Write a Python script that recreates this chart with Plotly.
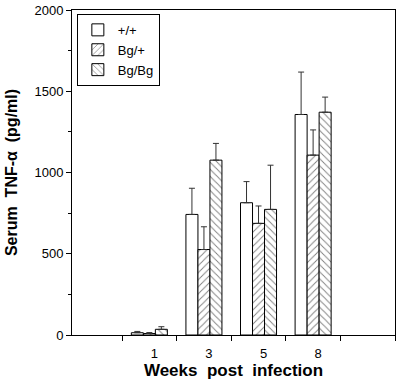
import plotly.graph_objects as go

weeks = ["1", "3", "5", "8"]
groups = ["+/+", "Bg/+", "Bg/Bg"]
wt_vals = [14, 742, 814, 1357]
wt_err = [8, 161, 130, 261]
bgh_vals = [9, 526, 687, 1107]
bgh_err = [6, 140, 107, 155]
bgbg_vals = [35, 1076, 773, 1371]
bgbg_err = [16, 103, 272, 93]

values = [wt_vals, bgh_vals, bgbg_vals]
errors = [wt_err, bgh_err, bgbg_err]
shapes = ["", "/", "\\"]

xpos = [1, 2, 3, 4]

fig = go.Figure()
for name, v, e, sh in zip(groups, values, errors, shapes):
    fig.add_trace(go.Bar(
        x=xpos, y=v, name=name,
        marker=dict(color="white", line=dict(color="black", width=1),
                    pattern=dict(shape=sh, fgcolor="black", bgcolor="white",
                                 size=5, solidity=0.18)),
        error_y=dict(type="data", array=e, symmetric=False, arrayminus=[0]*len(e),
                     color="#333333", thickness=1, width=3),
    ))

font = "Liberation Sans, Arial, sans-serif"
fig.update_layout(
    width=400, height=382,
    margin=dict(l=72, r=5, t=10, b=47, autoexpand=False),
    paper_bgcolor="white", plot_bgcolor="white",
    barmode="group", bargap=0.34, bargroupgap=0,
    font=dict(family=font, size=13, color="black"),
    showlegend=True,
    legend=dict(x=0.015, y=0.988, xanchor="left", yanchor="top",
                bordercolor="black", borderwidth=1, bgcolor="white",
                font=dict(size=13), tracegroupgap=0),
)
fig.update_xaxes(
    range=[-0.417, 5.5], tickvals=xpos, ticktext=weeks, ticks="",
    showline=True, linecolor="black", linewidth=1, mirror=True,
    showgrid=False, zeroline=False, automargin=False,
    minor=dict(tick0=0.5, dtick=1, ticks="outside", ticklen=5, tickcolor="black", showgrid=False),
    tickfont=dict(size=13), ticklabelstandoff=6, ticklabelshift=5,
    title=dict(text="<b>Weeks  post  infection</b>", font=dict(size=17), standoff=4),
)
fig.update_yaxes(
    range=[0, 2000], tickvals=[0, 500, 1000, 1500, 2000], ticks="outside", ticklen=5,
    tickcolor="black", showline=True, linecolor="black", linewidth=1, mirror=True,
    showgrid=False, zeroline=False, automargin=False,
    minor=dict(dtick=250, ticks="outside", ticklen=3, tickcolor="black", showgrid=False),
    tickfont=dict(size=13),
    title=dict(text="<b>Serum  TNF-α  (pg/ml)</b>", font=dict(size=16), standoff=12),
)

fig.write_html("out.html", config={"displayModeBar": False},
               post_script="document.body.style.margin='0';")
